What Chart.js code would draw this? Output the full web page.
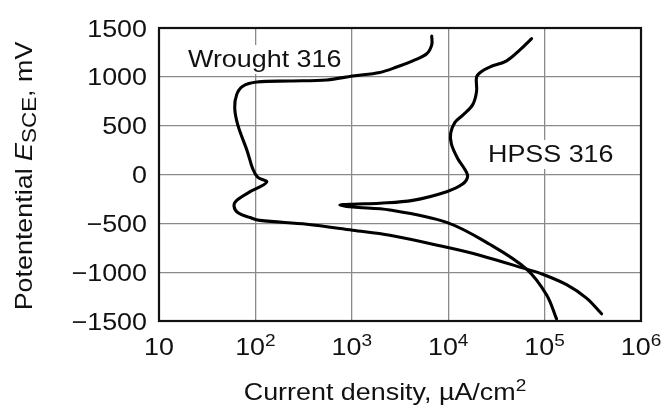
<!DOCTYPE html>
<html><head><meta charset="utf-8">
<style>html,body{margin:0;padding:0;background:#fff;}canvas{display:block;}</style>
<script src="https://cdn.jsdelivr.net/npm/chart.js@4.4.1/dist/chart.umd.min.js"></script>
</head><body>
<canvas id="c" width="664" height="409"></canvas>
<script>
// ---- data ----
const wroughtCurrent   = [6750, 6750, 5980, 4290, 2920, 1950, 1020, 551, 228, 104, 74, 64, 61, 66, 82, 94, 106, 131, 88, 64, 60, 66, 88, 111, 342, 1020, 2480, 9640, 21200, 65000, 95300, 169000, 272000, 390000];
const wroughtPotential = [1418, 1327, 1236, 1164, 1100, 1045, 1009, 968, 957, 947, 904, 819, 681, 500, 244, 56, -29, -78, -176, -265, -323, -392, -441, -470, -510, -571, -622, -745, -826, -969, -1021, -1128, -1266, -1426];
const hpssCurrent   = [73300, 55100, 40400, 26900, 22200, 19700, 19700, 17900, 14100, 11700, 10600, 10800, 12500, 14800, 15900, 14100, 9640, 4290, 1950, 1020, 752, 1020, 2480, 9640, 26900, 65000, 105000, 133000];
const hpssPotential = [1391, 1273, 1164, 1100, 1055, 1000, 851, 713, 606, 532, 422, 311, 167, 56, -20, -98, -176, -265, -294, -304, -314, -333, -363, -490, -714, -969, -1234, -1479];

const seriesNames = ['Wrought 316', 'HPSS 316'];
const xTickValues = [10, 100, 1000, 10000, 100000, 1000000];
const xTickBase   = ['10', '10', '10', '10', '10', '10'];
const xTickExp    = ['', '2', '3', '4', '5', '6'];
const yTickValues = [-1500, -1000, -500, 0, 500, 1000, 1500];
const yTickLabels = ['\u22121500', '\u22121000', '\u2212500', '0', '500', '1000', '1500'];
const xTitleMain = 'Current density, \u00b5A/cm';
const xTitleSup  = '2';
const yTitleParts = ['Potentential ', 'E', 'SCE', ', mV'];

// ---- drawing helpers ----
const FONT = '"Liberation Sans", Arial, Helvetica, sans-serif';
const STR = 1.12;
function setFont(ctx, size, style) { ctx.font = (style || '') + ' ' + size + 'px ' + FONT; }
function runWidth(ctx, runs) {
  let w = 0;
  runs.forEach(r => { setFont(ctx, r.size, r.style); w += ctx.measureText(r.t).width * STR; });
  return w;
}
function drawRuns(ctx, runs, x, y, align) {
  const w = runWidth(ctx, runs);
  let cx = align === 'center' ? x - w / 2 : (align === 'right' ? x - w : x);
  ctx.textAlign = 'left';
  ctx.textBaseline = 'alphabetic';
  runs.forEach(r => {
    setFont(ctx, r.size, r.style);
    ctx.save();
    ctx.translate(cx, y + (r.dy || 0));
    ctx.scale(STR, 1);
    ctx.fillText(r.t, 0, 0);
    ctx.restore();
    cx += ctx.measureText(r.t).width * STR;
  });
  return w;
}

const textPlugin = {
  id: 'texts',
  beforeDatasetsDraw(chart) {
    const ctx = chart.ctx;
    ctx.save();
    const labels = [
      { t: seriesNames[0], x: 188, y: 67 },
      { t: seriesNames[1], x: 488, y: 162 }
    ];
    labels.forEach(l => {
      const w = runWidth(ctx, [{ t: l.t, size: 24 }]);
      ctx.fillStyle = '#fff';
      ctx.fillRect(l.x - 3, l.y - 22, w + 6, 29);
      ctx.fillStyle = '#111';
      drawRuns(ctx, [{ t: l.t, size: 24 }], l.x, l.y, 'left');
    });
    ctx.restore();
  },
  afterDraw(chart) {
    const ctx = chart.ctx;
    const a = chart.chartArea;
    const xs = chart.scales.x, ys = chart.scales.y;
    ctx.save();
    ctx.strokeStyle = '#111';
    ctx.lineWidth = 2.2;
    ctx.strokeRect(a.left, a.top, a.right - a.left, a.bottom - a.top);
    ctx.fillStyle = '#111';
    yTickValues.forEach((v, i) => {
      const py = ys.getPixelForValue(v);
      drawRuns(ctx, [{ t: yTickLabels[i], size: 24 }], a.left - 12, py + 8.5, 'right');
    });
    xTickValues.forEach((v, i) => {
      const px = xs.getPixelForValue(v);
      const runs = [{ t: xTickBase[i], size: 24 }];
      if (xTickExp[i]) runs.push({ t: xTickExp[i], size: 17, dy: -9 });
      drawRuns(ctx, runs, px, a.bottom + 34, 'center');
    });
    drawRuns(ctx, [{ t: xTitleMain, size: 24 }, { t: xTitleSup, size: 17, dy: -9 }], 385, 400, 'center');
    ctx.save();
    ctx.translate(32, 176);
    ctx.rotate(-Math.PI / 2);
    drawRuns(ctx, [
      { t: yTitleParts[0], size: 24 },
      { t: yTitleParts[1], size: 24, style: 'italic' },
      { t: yTitleParts[2], size: 20, dy: 4 },
      { t: yTitleParts[3], size: 24 }
    ], 0, 0, 'center');
    ctx.restore();
    ctx.restore();
  }
};

const toPts = (xs, ys) => xs.map((x, i) => ({ x: x, y: ys[i] }));

new Chart(document.getElementById('c'), {
  type: 'scatter',
  data: {
    datasets: [
      { label: seriesNames[0], data: toPts(wroughtCurrent, wroughtPotential), showLine: true,
        borderColor: '#000', borderWidth: 3.1, pointRadius: 0, tension: 0.35, fill: false,
        borderCapStyle: 'round', borderJoinStyle: 'round' },
      { label: seriesNames[1], data: toPts(hpssCurrent, hpssPotential), showLine: true,
        borderColor: '#000', borderWidth: 3.1, pointRadius: 0, tension: 0.35, fill: false,
        borderCapStyle: 'round', borderJoinStyle: 'round' }
    ]
  },
  options: {
    responsive: false,
    animation: false,
    devicePixelRatio: 1,
    layout: { padding: { top: 28, right: 23, left: 0, bottom: 0 } },
    plugins: { legend: { display: false }, tooltip: { enabled: false } },
    scales: {
      x: {
        type: 'logarithmic', min: 10, max: 1000000,
        afterBuildTicks: s => { s.ticks = xTickValues.map(v => ({ value: v })); },
        afterFit: s => { s.height = 88; },
        ticks: { display: false },
        grid: { color: '#8a8a8a', lineWidth: 1.3, drawTicks: false },
        border: { display: false }
      },
      y: {
        type: 'linear', min: -1500, max: 1500,
        afterBuildTicks: s => { s.ticks = yTickValues.map(v => ({ value: v })); },
        afterFit: s => { s.width = 159; },
        ticks: { display: false },
        grid: { color: '#8a8a8a', lineWidth: 1.3, drawTicks: false },
        border: { display: false }
      }
    }
  },
  plugins: [textPlugin]
});
</script>
</body></html>
